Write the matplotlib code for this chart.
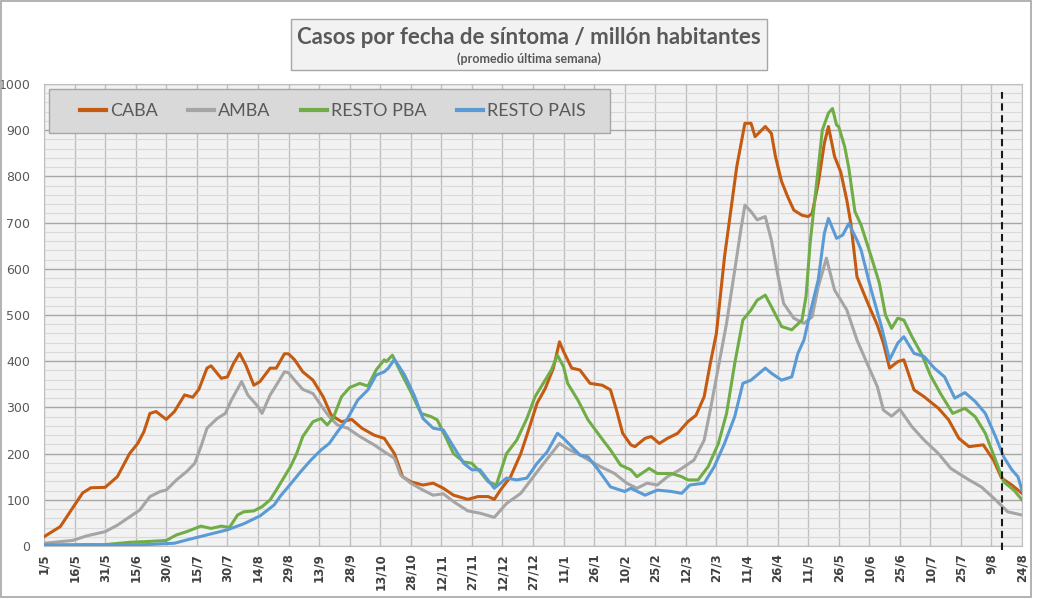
import datetime as dt
import matplotlib
matplotlib.use("Agg")
import matplotlib.pyplot as plt
import matplotlib.dates as mdates
from matplotlib.patches import Rectangle

# dias desde 1/5/2020 y valores
start = dt.date(2020, 5, 1)

caba_days = [0, 8, 14, 19, 23, 30, 36, 42, 46, 49, 52, 55, 60, 64, 69, 73, 76, 80, 82, 87, 90, 93, 96, 99,
             103, 106, 111, 114, 118, 120, 123, 127, 132, 137, 141, 146, 151, 156, 162, 167, 172, 176, 180,
             186, 191, 196, 201, 208, 213, 218, 221, 224, 229, 234, 237, 242, 246, 250, 253, 255, 259, 263,
             268, 274, 278, 281, 284, 288, 290, 295, 298, 302, 306, 311, 316, 320, 324, 327, 330, 334, 338,
             340, 344, 347, 349, 354, 357, 359, 362, 365, 368, 372, 375, 377, 380, 383, 385, 388, 391, 394,
             396, 399, 404, 409, 412, 415, 419, 422, 427, 432, 439, 444, 449, 454, 461, 466, 470, 475, 480]
caba_vals = [20, 42, 82, 115, 126, 127, 150, 200, 222, 247, 287, 291, 274, 291, 327, 322, 339, 385, 390, 363,
             366, 395, 417, 392, 348, 356, 385, 385, 416, 416, 403, 377, 359, 323, 283, 269, 274, 255, 240,
             233, 200, 150, 139, 132, 136, 125, 110, 101, 107, 107, 101, 121, 150, 200, 240, 309, 341, 385,
             442, 421, 385, 381, 352, 348, 338, 294, 244, 219, 215, 233, 237, 222, 233, 244, 269, 283, 323,
             395, 460, 626, 756, 821, 915, 915, 886, 908, 893, 843, 789, 756, 727, 716, 713, 720, 785, 872,
             908, 843, 810, 749, 698, 583, 529, 478, 439, 385, 399, 403, 338, 323, 298, 273, 233, 215, 219,
             186, 147, 132, 114]

amba_days = [0, 14, 21, 30, 36, 42, 47, 52, 57, 60, 65, 70, 74, 77, 80, 85, 89, 92, 97, 100, 105, 107, 111,
             114, 118, 120, 123, 127, 132, 137, 140, 144, 149, 155, 162, 167, 172, 175, 180, 186, 191, 196,
             201, 208, 214, 221, 227, 234, 239, 244, 249, 253, 258, 263, 273, 280, 286, 291, 296, 301, 306,
             312, 319, 324, 327, 331, 335, 339, 342, 344, 347, 350, 354, 357, 360, 363, 368, 373, 377, 380,
             384, 388, 394, 399, 404, 409, 412, 416, 420, 426, 432, 439, 445, 454, 460, 467, 473, 480]
amba_vals = [6, 12, 22, 31, 45, 63, 78, 107, 118, 121, 143, 161, 179, 215, 255, 276, 287, 316, 356, 327, 302,
             287, 327, 348, 377, 375, 359, 339, 330, 298, 280, 262, 255, 237, 219, 204, 190, 154, 136, 121,
             110, 113, 96, 76, 71, 62, 92, 114, 143, 172, 200, 222, 208, 197, 172, 157, 136, 125, 136, 132,
             150, 165, 186, 229, 294, 388, 482, 597, 684, 738, 724, 706, 713, 662, 590, 525, 493, 482, 496,
             561, 623, 554, 511, 446, 395, 345, 294, 281, 296, 258, 229, 200, 168, 143, 128, 100, 74, 67]

pba_days = [0, 20, 30, 42, 52, 60, 65, 70, 77, 82, 87, 91, 95, 98, 103, 107, 111, 114, 118, 121, 124, 127,
            132, 136, 139, 142, 146, 150, 155, 159, 163, 167, 168, 171, 175, 180, 185, 190, 193, 197, 201,
            206, 210, 214, 218, 222, 227, 232, 237, 241, 245, 249, 252, 255, 257, 262, 267, 273, 278, 283,
            288, 291, 297, 301, 308, 313, 316, 321, 326, 331, 335, 339, 343, 347, 350, 354, 357, 362, 367,
            372, 374, 376, 379, 382, 385, 387, 389, 390, 393, 395, 398, 401, 406, 410, 413, 416, 419, 422,
            426, 431, 435, 440, 446, 452, 457, 462, 467, 471, 476, 480]
pba_vals = [2, 3, 3, 8, 10, 12, 24, 31, 43, 38, 43, 40, 67, 74, 76, 85, 100, 121, 150, 172, 200, 237, 269,
            276, 262, 278, 323, 343, 352, 346, 381, 403, 399, 413, 377, 334, 287, 280, 273, 237, 200, 182,
            179, 161, 139, 132, 200, 229, 276, 323, 352, 381, 413, 388, 352, 316, 273, 237, 208, 175, 165,
            150, 168, 157, 157, 150, 143, 143, 172, 222, 287, 395, 489, 511, 532, 543, 518, 475, 468, 489,
            540, 655, 778, 900, 937, 947, 911, 908, 864, 818, 724, 695, 626, 569, 500, 471, 493, 489, 453,
            413, 370, 330, 287, 298, 280, 244, 186, 139, 121, 100]

pais_days = [0, 30, 50, 64, 70, 80, 90, 98, 106, 113, 116, 121, 126, 131, 136, 140, 144, 149, 154, 159, 163,
             167, 169, 172, 177, 182, 186, 191, 196, 201, 206, 210, 214, 221, 227, 232, 237, 242, 247, 252,
             255, 259, 263, 267, 272, 278, 285, 288, 295, 301, 308, 313, 317, 324, 329, 334, 339, 343, 347,
             350, 354, 357, 362, 367, 370, 373, 376, 380, 383, 385, 389, 392, 395, 399, 401, 406, 411, 415,
             419, 422, 427, 432, 437, 442, 447, 452, 457, 462, 467, 471, 475, 478, 480]
pais_vals = [2, 2, 3, 6, 13, 24, 35, 48, 65, 89, 108, 134, 161, 186, 208, 222, 247, 276, 316, 338, 370, 377,
             385, 404, 370, 323, 276, 255, 251, 215, 179, 165, 165, 125, 147, 143, 147, 179, 204, 244, 233,
             215, 197, 193, 165, 128, 118, 125, 110, 121, 118, 114, 132, 136, 172, 222, 280, 352, 359, 370,
             385, 374, 359, 366, 417, 446, 504, 576, 677, 709, 666, 673, 698, 662, 641, 554, 475, 403, 439,
             453, 417, 410, 385, 366, 320, 332, 313, 287, 237, 193, 165, 150, 121]

series = [("CABA", caba_days, caba_vals, "#c55a11"),
          ("AMBA", amba_days, amba_vals, "#a5a5a5"),
          ("RESTO PBA", pba_days, pba_vals, "#70ad47"),
          ("RESTO PAIS", pais_days, pais_vals, "#5b9bd5")]

cut_day = 470  # linea punteada
n_days = 480

def to_date(d):
    return start + dt.timedelta(days=d)

W, H = 1037, 599
fig = plt.figure(figsize=(W / 100, H / 100), dpi=100)
fig.patch.set_facecolor("white")
fig.patches.append(Rectangle((0.0005, 0.004), 0.994, 0.995, transform=fig.transFigure,
                             fill=False, edgecolor="#a6a6a6", lw=1.2))

ax = fig.add_axes([44 / W, 53 / H, 978 / W, 462 / H])
ax.set_facecolor("#f2f2f2")

for name, days, vals, color in series:
    ax.plot([to_date(d) for d in days], vals, color=color, lw=2.2, label=name,
            solid_joinstyle="round", zorder=3)

ax.plot([to_date(cut_day), to_date(cut_day)], [-8, 983], color="#1a1a1a", lw=1.5,
        ls=(0, (3.5, 2.2)), clip_on=False, zorder=4)

ax.set_xlim(to_date(0), to_date(n_days))
ax.set_ylim(0, 1000)

tick_days = list(range(0, n_days + 1, 15))
ax.set_xticks([to_date(d) for d in tick_days])
ax.xaxis.set_major_formatter(mdates.DateFormatter("%-d/%-m"))
ax.set_yticks(range(0, 1001, 100))
ax.set_yticks(range(0, 1001, 20), minor=True)

ax.grid(True, which="major", axis="y", color="#a6a6a6", lw=1.0, zorder=0)
ax.grid(True, which="minor", axis="y", color="#d9d9d9", lw=0.8, zorder=0)
ax.grid(True, which="major", axis="x", color="#bfbfbf", lw=1.0, zorder=0)
ax.set_axisbelow(True)

ax.tick_params(axis="both", which="both", length=0)
ax.tick_params(axis="y", pad=10, labelsize=9, labelcolor="#595959")
ax.tick_params(axis="x", pad=5, labelsize=8.5, labelcolor="#404040")
for lbl in ax.get_xticklabels():
    lbl.set_rotation(90)
    lbl.set_fontweight("bold")
    lbl.set_va("top")
for s in ax.spines.values():
    s.set_color("#bfbfbf")

# titulo con recuadro
fig.patches.append(Rectangle((291 / W, 1 - 70 / H), 476 / W, 51 / H, transform=fig.transFigure,
                             facecolor="#f2f2f2", edgecolor="#a6a6a6", lw=1.0))
fig.text(529 / W, 1 - 37 / H, "Casos por fecha de síntoma / millón habitantes",
         ha="center", va="center", fontsize=16, fontweight="bold", color="#595959", family="Lato")
fig.text(529 / W, 1 - 59 / H, "(promedio última semana)",
         ha="center", va="center", fontsize=9, fontweight="bold", color="#595959", family="Lato")

# leyenda: recuadro gris y entradas sin marco
ax.add_patch(Rectangle((49 / W, 1 - 133 / H), 561 / W, 44 / H, transform=fig.transFigure,
                       facecolor="#d9d9d9", edgecolor="#a6a6a6", lw=1.0, zorder=5, clip_on=False))
leg = ax.legend(loc="center left", bbox_to_anchor=(80 / W, 1 - 111 / H), bbox_transform=fig.transFigure,
                ncol=4, frameon=False, prop={"family": "Lato", "size": 13},
                handlelength=1.45, handletextpad=0.2, columnspacing=1.7, borderpad=0, borderaxespad=0)
leg.set_zorder(6)
for t in leg.get_texts():
    t.set_color("#595959")
for h in leg.get_lines():
    h.set_linewidth(3)

fig.savefig("out.png", dpi=100, facecolor="white")
